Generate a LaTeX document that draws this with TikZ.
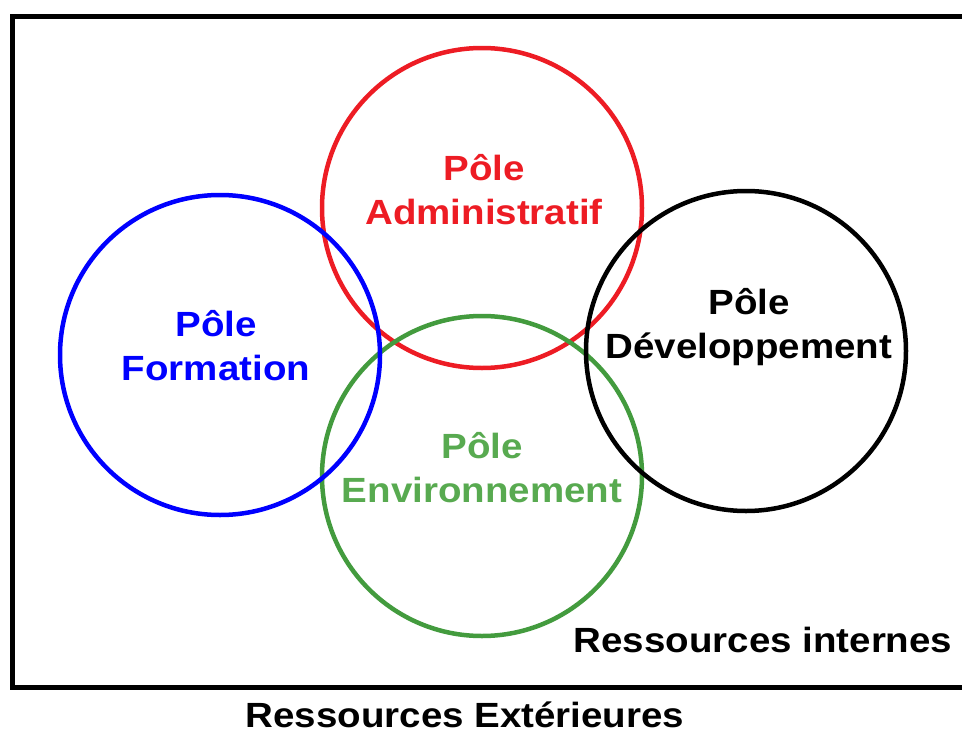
\documentclass[tikz,border=0pt]{standalone}
\usepackage{fontspec}
\setmainfont{Liberation Sans}[FakeStretch=1.1]
\usetikzlibrary{positioning}
\definecolor{poleRed}{RGB}{237,28,36}
\definecolor{poleBlue}{RGB}{0,0,255}
\definecolor{poleGreen}{RGB}{67,155,62}
\definecolor{poleGreenText}{RGB}{88,170,80}

\begin{document}
\begin{tikzpicture}[x=1pt,y=-1pt,
    pole/.style={circle, draw, line width=4.5pt, minimum size=320pt, inner sep=0pt},
    poletext/.style={align=center, inner sep=0pt, font=\fontsize{35}{44}\selectfont\bfseries}]
    \useasboundingbox (0,0) rectangle (962,734);

    % cadre des ressources internes
    \draw[line width=5pt] (964,16) -- (12,16) -- (12,687) -- (964,687);

    \node[pole, draw=poleRed] (admin) at (482,208) {};
    \node[pole, draw=poleGreen] (env) at (482,476) {};
    \node[pole, draw=poleBlue] (formation) at (220,355) {};
    \node[pole, draw=black] (dev) at (746,351) {};

    \node[poletext, text=poleRed] (adminText) at (484,190) {Pôle\\Administratif};
    \node[poletext, text=poleGreenText] (envText) at (482,468) {Pôle\\Environnement};
    \node[poletext, text=poleBlue] (formationText) at (216,346) {Pôle\\Formation};
    \node[poletext, text=black] (devText) at (749,327) {Pôle\\Développement};

    \node[poletext, anchor=base] (internes) at (763,652) {Ressources internes};
    \node[poletext, anchor=base] (exterieures) at (465,727) {Ressources Extérieures};
\end{tikzpicture}
\end{document}
